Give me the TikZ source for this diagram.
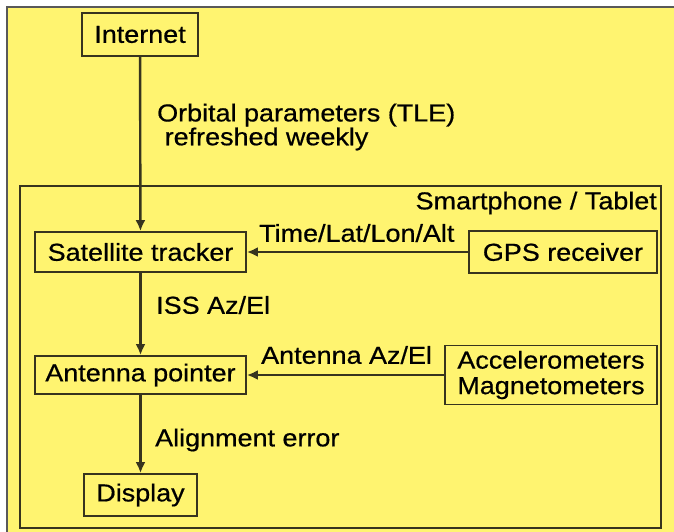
\documentclass[tikz,border=0pt]{standalone}
\usepackage{fontspec}
\setmainfont{Liberation Sans}[FakeStretch=1.1, FakeBold=0.6]
\usepackage{xcolor}
\usepackage{tikz}
\usetikzlibrary{shapes,arrows.meta,calc}

\definecolor{padyellow}{RGB}{255,244,112}
\definecolor{inkline}{RGB}{55,52,30}

\begin{document}
\begin{tikzpicture}[x=1pt, y=-1pt,
        box/.style={draw=inkline, line width=1.8pt, inner sep=0pt,
                    align=center, text=black},
        lbl/.style={anchor=west, inner sep=0pt, align=left, text=black},
        flow/.style={draw=inkline, line width=2.4pt, -{Latex[length=11pt, width=10pt]}}]
        \fontsize{24.5}{20.5}\selectfont
        \useasboundingbox (0,0) rectangle (674,531);

        % background sheet
        \fill[white] (0,0) rectangle (674,531);
        \filldraw[fill=padyellow, draw=gray!70!black, line width=1.5pt] (7,7) rectangle (676,533);

        % smartphone frame
        \draw[inkline, line width=1.8pt] (20,186) rectangle (661,528);
        \node[anchor=east, inner sep=0pt] (phone) at (657,203) {Smartphone / Tablet};

        % blocks
        \node[box, minimum width=116pt, minimum height=43pt] (internet) at (140,34.5) {Internet};
        \node[box, minimum width=211pt, minimum height=40pt] (tracker) at (140.5,252) {Satellite tracker};
        \node[box, minimum width=188pt, minimum height=42pt] (gps) at (563,252) {GPS receiver};
        \node[box, minimum width=211pt, minimum height=38pt] (pointer) at (140.5,375) {Antenna pointer};
        \node[box, minimum width=212pt, minimum height=59pt] (sensors) at (551,375)
            {Accelerometers\\[5pt]Magnetometers};
        \node[box, minimum width=113pt, minimum height=42pt] (display) at (140.5,495) {Display};

        % connectors
        \draw[flow] (internet) -- (tracker);
        \draw[flow] (gps) -- (tracker);
        \draw[flow] (tracker) -- (pointer);
        \draw[flow] (sensors) -- (pointer);
        \draw[flow] (pointer) -- (display);

        % labels
        \node[lbl] (tle) at (157,127) {Orbital parameters (TLE)\\\ refreshed weekly};
        \node[lbl] (fix) at (259,233) {Time/Lat/Lon/Alt};
        \node[lbl] (iss) at (156,305) {ISS Az/El};
        \node[lbl] (att) at (261,355) {Antenna Az/El};
        \node[lbl] (err) at (155,440) {Alignment error};
\end{tikzpicture}
\end{document}
